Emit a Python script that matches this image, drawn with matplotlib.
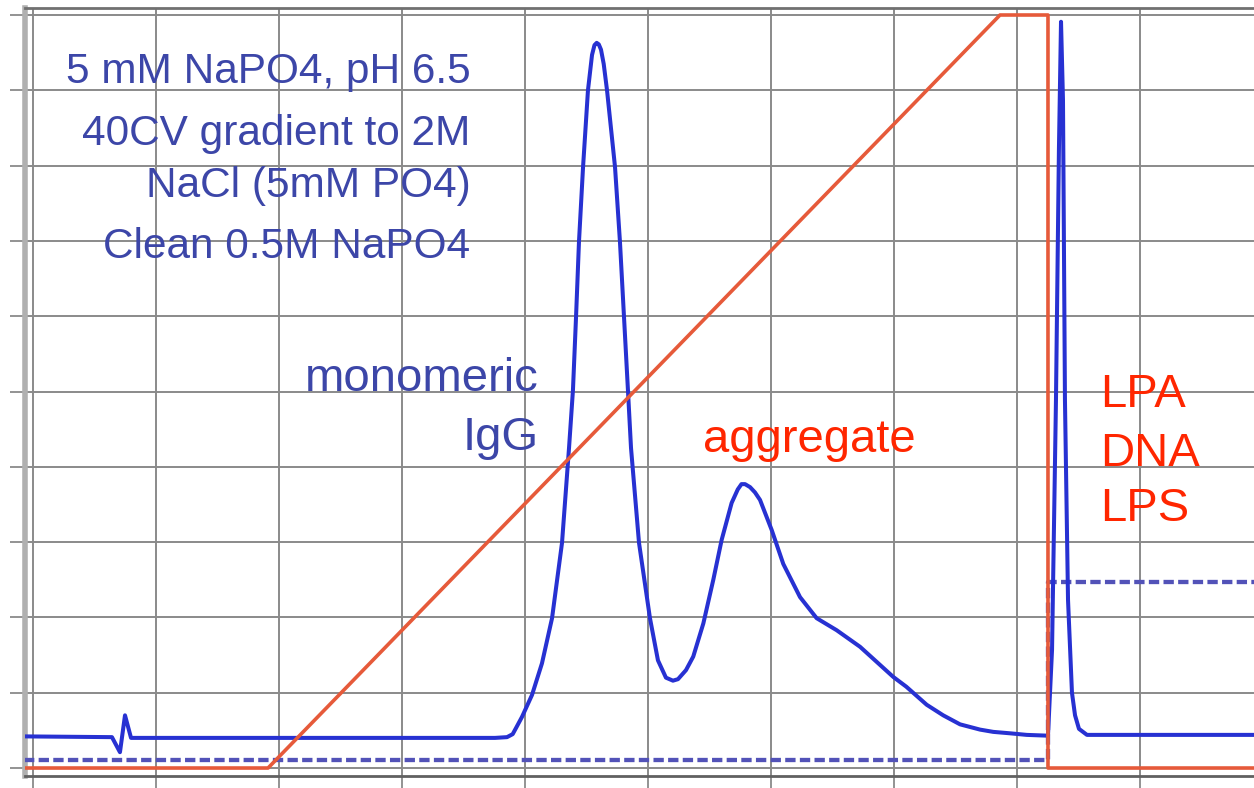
import matplotlib
matplotlib.use('Agg')
import matplotlib.pyplot as plt

plt.rcParams['font.family'] = ['Liberation Sans', 'DejaVu Sans']

# UV trace (absorbance, arbitrary units) against elution volume (column volumes / 10)
uv_x = [-0.07, 0.642, 0.707, 0.748, 0.797, 1.602, 3.756, 3.854, 3.90, 3.93,
        3.976, 4.057, 4.138, 4.220, 4.301, 4.358, 4.390, 4.415, 4.439, 4.472,
        4.512, 4.545, 4.565, 4.583, 4.60, 4.618, 4.64, 4.667, 4.732, 4.772,
        4.805, 4.837, 4.862, 4.927, 5.016, 5.081, 5.146, 5.203, 5.244, 5.309,
        5.368, 5.450, 5.531, 5.599, 5.680, 5.73, 5.76, 5.789, 5.83, 5.87,
        5.911, 6.006, 6.100, 6.236, 6.371, 6.534, 6.724, 6.994, 7.10, 7.266,
        7.40, 7.537, 7.70, 7.807, 7.95, 8.079, 8.244, 8.252, 8.285, 8.317,
        8.341, 8.358, 8.374, 8.390, 8.415, 8.447, 8.472, 8.504, 8.569, 9.93]
uv_y = [4.2, 4.1, 2.1, 7.0, 4.0, 4.0, 4.0, 4.1, 4.5, 5.4,
        6.8, 9.7, 13.9, 19.9, 29.9, 42.5, 50.2, 59.9, 69.9, 79.8,
        90.0, 94.7, 96.0, 96.3, 96.1, 95.4, 93.5, 90.0, 79.8, 69.9,
        59.9, 50.2, 42.5, 29.9, 19.9, 14.3, 12.0, 11.6, 11.8, 13.0,
        14.8, 19.2, 25.0, 30.3, 35.2, 37.0, 37.7, 37.7, 37.3, 36.6,
        35.6, 31.6, 27.1, 22.7, 19.9, 18.3, 16.1, 12.1, 10.8, 8.4,
        7.0, 5.8, 5.1, 4.8, 4.6, 4.4, 4.3, 4.3, 15.7, 48.9,
        82.1, 99.1, 88.7, 48.9, 22.3, 10.0, 7.0, 5.2, 4.4, 4.4]

# NaCl gradient (%B)
grad_x = [-0.07, 1.911, 7.862, 8.252, 8.252, 9.93]
grad_y = [0.0, 0.0, 100.0, 100.0, 0.0, 0.0]

# phosphate step (clean)
po4_x = [-0.07, 8.252, 8.252, 9.93]
po4_y = [1.1, 1.1, 24.7, 24.7]

conditions = ['5 mM NaPO4, pH 6.5', '40CV gradient to 2M',
              'NaCl (5mM PO4)', 'Clean 0.5M NaPO4']
cond_y = [91.0, 82.7, 75.8, 67.7]
contaminants = ['LPA', 'DNA', 'LPS']
cont_y = [47.9, 40.1, 32.8]

fig = plt.figure(figsize=(12.54, 7.88), dpi=100)
ax = fig.add_axes([25 / 1254, 12 / 788, 1229 / 1254, 768 / 788])
ax.set_xlim(-0.065, 9.927)
ax.set_ylim(-1.06, 100.93)

# grid and frame
ax.set_xticks(range(0, 10))
ax.set_yticks(range(0, 101, 10))
ax.grid(True, color='#8a8a8a', linewidth=1.4)
ax.set_axisbelow(True)
ax.tick_params(axis='x', length=9, width=1.3, color='#8a8a8a', labelbottom=False)
ax.tick_params(axis='y', length=11, width=1.3, color='#8a8a8a', labelleft=False)
ax.spines['right'].set_visible(False)
ax.spines['top'].set_color('#707070')
ax.spines['top'].set_linewidth(2)
ax.spines['bottom'].set_color('#606060')
ax.spines['bottom'].set_linewidth(2)
ax.spines['left'].set_color('#b0b0b0')
ax.spines['left'].set_linewidth(4)

# traces
ax.plot(po4_x, po4_y, color='#5252b8', linewidth=3.1, linestyle=(0, (2.4, 1)),
        solid_capstyle='butt', zorder=3)
ax.plot(uv_x, uv_y, color='#2731d2', linewidth=2.9, zorder=4,
        solid_joinstyle='round')
ax.plot(grad_x, grad_y, color='#e65a3a', linewidth=2.6, zorder=5)

# annotations
blue_txt = '#3c46a8'
red_txt = '#ff2600'
for label, y in zip(conditions, cond_y):
    ax.text(3.555, y, label, color=blue_txt, fontsize=30.5, ha='right', va='baseline')
ax.text(4.11, 50.1, 'monomeric', color=blue_txt, fontsize=34, ha='right', va='baseline')
ax.text(4.11, 42.2, 'IgG', color=blue_txt, fontsize=34, ha='right', va='baseline')
ax.text(5.447, 42.0, 'aggregate', color=red_txt, fontsize=34, ha='left', va='baseline')
for label, y in zip(contaminants, cont_y):
    ax.text(8.673, y, label, color=red_txt, fontsize=34, ha='left', va='baseline')

fig.savefig('out.png', dpi=100)
